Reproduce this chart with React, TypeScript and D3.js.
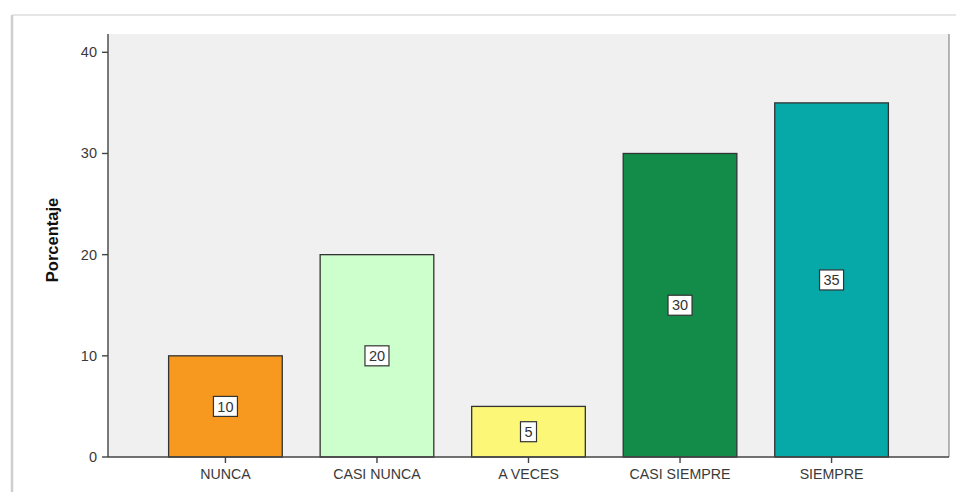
import React from "react";
import * as d3 from "d3";

const categories = ["NUNCA", "CASI NUNCA", "A VECES", "CASI SIEMPRE", "SIEMPRE"];
const values = [10, 20, 5, 30, 35];
const colors = ["#F7991F", "#CCFFCC", "#FCF776", "#138C4A", "#06A8A8"];
const yTicks = [0, 10, 20, 30, 40];
const yTitle = "Porcentaje";

const W = 956;
const H = 492;
const plotLeft = 108;
const plotRight = 949;
const plotTop = 34;
const plotBottom = 457;

export default function App() {
  const x = d3
    .scaleBand<string>()
    .domain(categories)
    .range([plotLeft, plotRight])
    .paddingInner(0.25)
    .paddingOuter(0.4);
  const y = d3.scaleLinear().domain([0, 40]).range([plotBottom, 52.3]);
  const font = "'Liberation Sans', Arial, sans-serif";

  return (
    <svg
      width={W}
      height={H}
      style={{ position: "absolute", left: 0, top: 0, display: "block" }}
    >
      <rect x={0} y={0} width={W} height={H} fill="#fff" />
      {/* outer frame */}
      <line x1={12} y1={15} x2={W} y2={15} stroke="#e6e6e6" strokeWidth={2} />
      <line x1={12} y1={15} x2={12} y2={H} stroke="#cfcfcf" strokeWidth={2.5} />
      {/* plot background */}
      <rect
        x={plotLeft}
        y={plotTop}
        width={plotRight - plotLeft}
        height={plotBottom - plotTop}
        fill="#f0f0f0"
      />
      <line x1={plotRight} y1={plotTop} x2={plotRight} y2={plotBottom} stroke="#888" strokeWidth={1.2} />
      {/* bars */}
      {categories.map((c, i) => (
        <rect
          key={c}
          x={x(c)}
          y={y(values[i])}
          width={x.bandwidth()}
          height={y(0) - y(values[i])}
          fill={colors[i]}
          stroke="#333"
          strokeWidth={1.3}
        />
      ))}
      {/* value labels */}
      {categories.map((c, i) => {
        const cx = (x(c) as number) + x.bandwidth() / 2;
        const cy = (y(values[i]) + y(0)) / 2;
        const label = String(values[i]);
        const bw = label.length === 1 ? 16 : 24;
        return (
          <g key={"l" + c}>
            <rect
              x={cx - bw / 2}
              y={cy - 10}
              width={bw}
              height={20}
              fill="#fff"
              stroke="#333"
              strokeWidth={1.2}
            />
            <text
              x={cx}
              y={cy + 5.2}
              textAnchor="middle"
              fontFamily={font}
              fontSize={14.5}
              fill="#333"
            >
              {label}
            </text>
          </g>
        );
      })}
      {/* axes */}
      <line x1={plotLeft} y1={plotTop} x2={plotLeft} y2={plotBottom} stroke="#444" strokeWidth={1.4} />
      <line x1={plotLeft} y1={plotBottom} x2={plotRight} y2={plotBottom} stroke="#444" strokeWidth={1.4} />
      {yTicks.map((t) => (
        <g key={"t" + t}>
          <line x1={plotLeft - 6} y1={y(t)} x2={plotLeft} y2={y(t)} stroke="#444" strokeWidth={1.4} />
          <text
            x={plotLeft - 11}
            y={y(t) + 5}
            textAnchor="end"
            fontFamily={font}
            fontSize={14.5}
            fill="#3a3a3a"
          >
            {t}
          </text>
        </g>
      ))}
      {categories.map((c) => {
        const cx = (x(c) as number) + x.bandwidth() / 2;
        return (
          <g key={"x" + c}>
            <line x1={cx} y1={plotBottom} x2={cx} y2={plotBottom + 6} stroke="#444" strokeWidth={1.4} />
            <text
              x={cx}
              y={479}
              textAnchor="middle"
              fontFamily={font}
              fontSize={14.2}
              fill="#3a3a3a"
            >
              {c}
            </text>
          </g>
        );
      })}
      <text
        transform={`translate(58,240) rotate(-90)`}
        textAnchor="middle"
        fontFamily="'Liberation Sans Narrow', 'Liberation Sans', Arial, sans-serif"
        fontWeight="bold"
        fontSize={16.5}
        fill="#111"
      >
        {yTitle}
      </text>
    </svg>
  );
}
